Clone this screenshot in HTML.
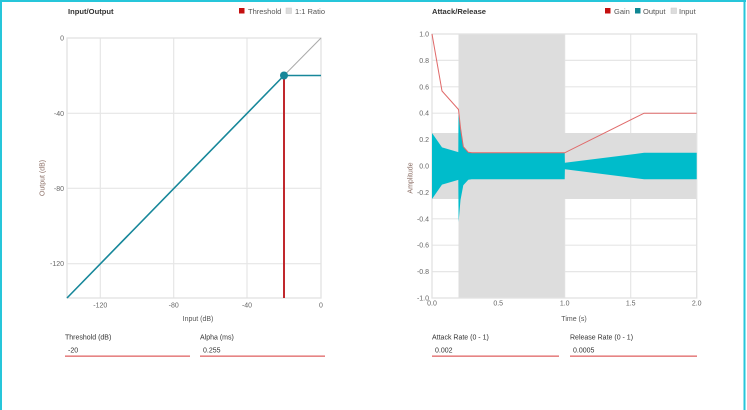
<!DOCTYPE html>
<html>
<head>
<meta charset="utf-8">
<style>
html,body{margin:0;padding:0;background:#fff;}
body{width:747px;height:410px;overflow:hidden;position:relative;}
svg{display:block;font-family:"Liberation Sans",Arial,sans-serif;}
</style>
</head>
<body>
<svg width="747" height="410" viewBox="0 0 747 410" xmlns="http://www.w3.org/2000/svg">
  <rect x="0" y="0" width="747" height="410" fill="#fff"/>
  <!-- teal frame -->
  <rect x="0" y="0" width="746" height="2" fill="#26c6da"/>
  <rect x="0" y="0" width="2" height="410" fill="#26c6da"/>
  <rect x="743.5" y="0" width="2" height="410" fill="#26c6da"/>

  <!-- ===== LEFT CHART ===== -->
  <text x="68" y="14" font-size="7.6" font-weight="bold" fill="#333">Input/Output</text>
  <rect x="239" y="8" width="5.5" height="5.5" fill="#c40f0f"/>
  <text x="248" y="14" font-size="7.5" fill="#555">Threshold</text>
  <rect x="286" y="8" width="5.5" height="5.5" fill="#dcdcdc" stroke="#c8c8c8" stroke-width="0.5"/>
  <text x="295" y="14" font-size="7.5" fill="#555">1:1 Ratio</text>

  <!-- grid -->
  <g stroke="#e6e6e6" stroke-width="1.2">
    <line x1="100.3" y1="38" x2="100.3" y2="298"/>
    <line x1="173.7" y1="38" x2="173.7" y2="298"/>
    <line x1="247" y1="38" x2="247" y2="298"/>
    <line x1="67" y1="113.3" x2="321" y2="113.3"/>
    <line x1="67" y1="188.3" x2="321" y2="188.3"/>
    <line x1="67" y1="263.7" x2="321" y2="263.7"/>
  </g>
  <rect x="67" y="38" width="254" height="260" fill="none" stroke="#e2e2e2" stroke-width="1.3"/>

  <!-- y ticks -->
  <g font-size="7" fill="#666" text-anchor="end">
    <text x="64" y="40.5">0</text>
    <text x="64" y="115.8">-40</text>
    <text x="64" y="190.8">-80</text>
    <text x="64" y="266.2">-120</text>
  </g>
  <!-- x ticks -->
  <g font-size="7" fill="#666" text-anchor="middle">
    <text x="100.3" y="307.5">-120</text>
    <text x="173.7" y="307.5">-80</text>
    <text x="247" y="307.5">-40</text>
    <text x="321" y="307.5">0</text>
  </g>
  <text x="198" y="321" font-size="7" fill="#555" text-anchor="middle">Input (dB)</text>
  <text transform="translate(44.5,178) rotate(-90)" font-size="7" fill="#8a6d64" text-anchor="middle">Output (dB)</text>

  <!-- series -->
  <line x1="284" y1="75.5" x2="321" y2="38" stroke="#aaaaaa" stroke-width="1"/>
  <line x1="284" y1="75.5" x2="284" y2="298" stroke="#c0282d" stroke-width="2"/>
  <polyline points="67,298 284,75.5 321,75.5" fill="none" stroke="#17879a" stroke-width="1.6"/>
  <circle cx="284" cy="75.5" r="4" fill="#17879a"/>

  <!-- inputs -->
  <g font-size="7" fill="#333">
    <text x="65" y="339.5">Threshold (dB)</text>
    <text x="68" y="352.5">-20</text>
    <text x="200" y="339.5">Alpha (ms)</text>
    <text x="203" y="352.5">0.255</text>
  </g>
  <rect x="65" y="355.5" width="125" height="1.3" fill="#e06666"/>
  <rect x="200" y="355.5" width="125" height="1.3" fill="#e06666"/>

  <!-- ===== RIGHT CHART ===== -->
  <text x="432" y="14" font-size="7.6" font-weight="bold" fill="#333">Attack/Release</text>
  <rect x="605" y="8" width="5.5" height="5.5" fill="#c40f0f"/>
  <text x="614" y="14" font-size="7.5" fill="#555">Gain</text>
  <rect x="635" y="8" width="5.5" height="5.5" fill="#0f8793"/>
  <text x="643" y="14" font-size="7.5" fill="#555">Output</text>
  <rect x="671" y="8" width="5.5" height="5.5" fill="#dcdcdc" stroke="#c8c8c8" stroke-width="0.5"/>
  <text x="679" y="14" font-size="7.5" fill="#555">Input</text>

  <!-- grid -->
  <g stroke="#e6e6e6" stroke-width="1.2">
    <line x1="498.2" y1="34" x2="498.2" y2="298"/>
    <line x1="564.7" y1="34" x2="564.7" y2="298"/>
    <line x1="630.7" y1="34" x2="630.7" y2="298"/>
    <line x1="432" y1="60.4" x2="697" y2="60.4"/>
    <line x1="432" y1="86.8" x2="697" y2="86.8"/>
    <line x1="432" y1="113.2" x2="697" y2="113.2"/>
    <line x1="432" y1="139.6" x2="697" y2="139.6"/>
    <line x1="432" y1="166" x2="697" y2="166"/>
    <line x1="432" y1="192.4" x2="697" y2="192.4"/>
    <line x1="432" y1="218.8" x2="697" y2="218.8"/>
    <line x1="432" y1="245.2" x2="697" y2="245.2"/>
    <line x1="432" y1="271.6" x2="697" y2="271.6"/>
  </g>

  <!-- input band -->
  <path d="M432,133 L458.5,133 L458.5,34 L564.7,34 L564.7,133 L696.7,133 L696.7,199 L564.7,199 L564.7,298 L458.5,298 L458.5,199 L432,199 Z" fill="#dddddd"/>

  <rect x="432" y="34" width="264.7" height="264" fill="none" stroke="#e2e2e2" stroke-width="1.3"/>

  <!-- output band -->
  <path d="M432,133 L442,147.4 L458.3,152.1 L458.5,110.6 L460.5,130 L463.3,146.7 L468.3,152.3 L471.7,152.8 L564.7,152.8 L564.9,162.7 L644.1,152.8 L696.7,152.8 L696.7,179.2 L644.1,179.2 L564.9,169.3 L564.7,179.2 L471.7,179.2 L468.3,179.7 L463.3,185.3 L460.5,200 L458.6,222 L458.3,179.9 L442,184.6 L432,199 Z" fill="#00bccb"/>

  <!-- gain line -->
  <polyline points="432,34 442,91 458.5,109.5 460.5,128 463.3,146.7 468.3,152.3 472,152.8 564.7,152.8 644.1,113.2 696.7,113.2" fill="none" stroke="#e06a6a" stroke-width="1"/>

  <!-- y ticks -->
  <g font-size="7" fill="#666" text-anchor="end">
    <text x="429" y="36.5">1.0</text>
    <text x="429" y="62.9">0.8</text>
    <text x="429" y="89.3">0.6</text>
    <text x="429" y="115.7">0.4</text>
    <text x="429" y="142.1">0.2</text>
    <text x="429" y="168.5">0.0</text>
    <text x="429" y="194.9">-0.2</text>
    <text x="429" y="221.3">-0.4</text>
    <text x="429" y="247.7">-0.6</text>
    <text x="429" y="274.1">-0.8</text>
    <text x="429" y="300.5">-1.0</text>
  </g>
  <!-- x ticks -->
  <g font-size="7" fill="#666" text-anchor="middle">
    <text x="432" y="305.5">0.0</text>
    <text x="498.2" y="305.5">0.5</text>
    <text x="564.7" y="305.5">1.0</text>
    <text x="630.7" y="305.5">1.5</text>
    <text x="696.7" y="305.5">2.0</text>
  </g>
  <text x="574" y="321" font-size="7" fill="#555" text-anchor="middle">Time (s)</text>
  <text transform="translate(412.5,178) rotate(-90)" font-size="7" fill="#8a6d64" text-anchor="middle">Amplitude</text>

  <!-- inputs -->
  <g font-size="7" fill="#333">
    <text x="432" y="339.5">Attack Rate (0 - 1)</text>
    <text x="435" y="352.5">0.002</text>
    <text x="570" y="339.5">Release Rate (0 - 1)</text>
    <text x="573" y="352.5">0.0005</text>
  </g>
  <rect x="432" y="355.5" width="127" height="1.3" fill="#e06666"/>
  <rect x="570" y="355.5" width="127" height="1.3" fill="#e06666"/>
</svg>
</body>
</html>
